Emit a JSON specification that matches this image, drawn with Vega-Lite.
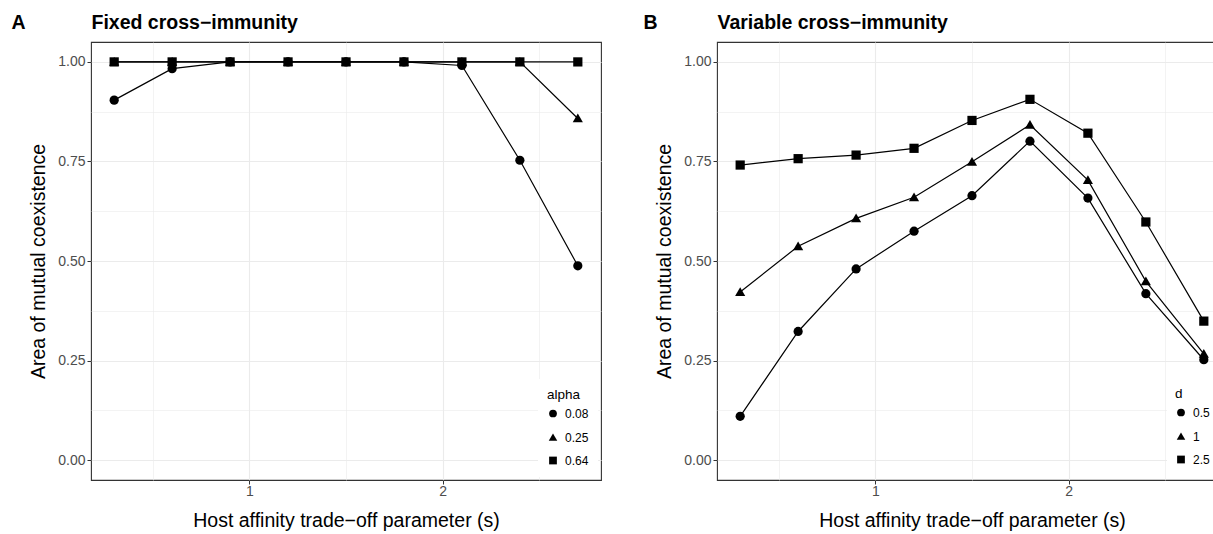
{
  "$schema": "https://vega.github.io/schema/vega-lite/v6.json",
  "background": "white",
  "padding": {"left": 10, "top": 11, "right": 0, "bottom": 0},
  "datasets": {
    "fixed": [
      {"s": 0.3, "area": 0.904, "alpha": "0.08"},
      {"s": 0.6, "area": 0.983, "alpha": "0.08"},
      {"s": 0.9, "area": 1.0, "alpha": "0.08"},
      {"s": 1.2, "area": 1.0, "alpha": "0.08"},
      {"s": 1.5, "area": 1.0, "alpha": "0.08"},
      {"s": 1.8, "area": 1.0, "alpha": "0.08"},
      {"s": 2.1, "area": 0.991, "alpha": "0.08"},
      {"s": 2.4, "area": 0.753, "alpha": "0.08"},
      {"s": 2.7, "area": 0.488, "alpha": "0.08"},
      {"s": 0.3, "area": 1.0, "alpha": "0.25"},
      {"s": 0.6, "area": 1.0, "alpha": "0.25"},
      {"s": 0.9, "area": 1.0, "alpha": "0.25"},
      {"s": 1.2, "area": 1.0, "alpha": "0.25"},
      {"s": 1.5, "area": 1.0, "alpha": "0.25"},
      {"s": 1.8, "area": 1.0, "alpha": "0.25"},
      {"s": 2.1, "area": 1.0, "alpha": "0.25"},
      {"s": 2.4, "area": 1.0, "alpha": "0.25"},
      {"s": 2.7, "area": 0.858, "alpha": "0.25"},
      {"s": 0.3, "area": 1.0, "alpha": "0.64"},
      {"s": 0.6, "area": 1.0, "alpha": "0.64"},
      {"s": 0.9, "area": 1.0, "alpha": "0.64"},
      {"s": 1.2, "area": 1.0, "alpha": "0.64"},
      {"s": 1.5, "area": 1.0, "alpha": "0.64"},
      {"s": 1.8, "area": 1.0, "alpha": "0.64"},
      {"s": 2.1, "area": 1.0, "alpha": "0.64"},
      {"s": 2.4, "area": 1.0, "alpha": "0.64"},
      {"s": 2.7, "area": 1.0, "alpha": "0.64"}
    ],
    "variable": [
      {"s": 0.3, "area": 0.110, "d": "0.5"},
      {"s": 0.6, "area": 0.323, "d": "0.5"},
      {"s": 0.9, "area": 0.480, "d": "0.5"},
      {"s": 1.2, "area": 0.575, "d": "0.5"},
      {"s": 1.5, "area": 0.664, "d": "0.5"},
      {"s": 1.8, "area": 0.801, "d": "0.5"},
      {"s": 2.1, "area": 0.658, "d": "0.5"},
      {"s": 2.4, "area": 0.418, "d": "0.5"},
      {"s": 2.7, "area": 0.252, "d": "0.5"},
      {"s": 0.3, "area": 0.422, "d": "1"},
      {"s": 0.6, "area": 0.537, "d": "1"},
      {"s": 0.9, "area": 0.607, "d": "1"},
      {"s": 1.2, "area": 0.660, "d": "1"},
      {"s": 1.5, "area": 0.749, "d": "1"},
      {"s": 1.8, "area": 0.842, "d": "1"},
      {"s": 2.1, "area": 0.703, "d": "1"},
      {"s": 2.4, "area": 0.449, "d": "1"},
      {"s": 2.7, "area": 0.267, "d": "1"},
      {"s": 0.3, "area": 0.741, "d": "2.5"},
      {"s": 0.6, "area": 0.757, "d": "2.5"},
      {"s": 0.9, "area": 0.766, "d": "2.5"},
      {"s": 1.2, "area": 0.783, "d": "2.5"},
      {"s": 1.5, "area": 0.853, "d": "2.5"},
      {"s": 1.8, "area": 0.906, "d": "2.5"},
      {"s": 2.1, "area": 0.821, "d": "2.5"},
      {"s": 2.4, "area": 0.598, "d": "2.5"},
      {"s": 2.7, "area": 0.349, "d": "2.5"}
    ]
  },
  "config": {
    "font": "Liberation Sans",
    "view": {"stroke": "#333333", "strokeWidth": 1.1},
    "axis": {
      "domain": false,
      "tickColor": "#333333",
      "tickSize": 4,
      "labelPadding": 2,
      "labelFontSize": 14,
      "labelColor": "#4D4D4D",
      "titleFontSize": 19.5,
      "titleFontWeight": "normal",
      "titleColor": "black",
      "gridColor": "#EBEBEB"
    },
    "legend": {
      "titleFontSize": 13.5,
      "titleFontWeight": "normal",
      "titleColor": "black",
      "labelFontSize": 12,
      "labelColor": "black",
      "symbolSize": 60,
      "symbolFillColor": "black",
      "symbolStrokeColor": "black",
      "rowPadding": 9,
      "titlePadding": 6,
      "labelOffset": 6,
      "fillColor": "white"
    },
    "concat": {"spacing": 40}
  },
  "resolve": {"scale": {"shape": "independent"}, "legend": {"shape": "independent"}},
  "hconcat": [
    {
      "width": 510,
      "height": 438,
      "data": {"name": "fixed"},
      "layer": [
        {
          "mark": {"type": "line", "color": "black", "strokeWidth": 1.2},
          "encoding": {
            "x": {
              "field": "s", "type": "quantitative",
              "scale": {"domain": [0.18, 2.82], "nice": false, "zero": false},
              "axis": {
                "title": "Host affinity trade−off parameter (s)",
                "values": [0.5, 1, 1.5, 2, 2.5],
                "labelExpr": "datum.value % 1 == 0 ? format(datum.value, 'd') : ''",
                "tickColor": {"condition": {"test": "datum.value % 1 == 0", "value": "#333333"}, "value": "transparent"},
                "gridWidth": {"condition": {"test": "datum.value % 1 == 0", "value": 1.1}, "value": 0.6},
                "labelPadding": 0,
                "titlePadding": 13
              }
            },
            "y": {
              "field": "area", "type": "quantitative",
              "scale": {"domain": [-0.05, 1.05], "nice": false, "zero": false},
              "axis": {
                "title": "Area of mutual coexistence",
                "values": [0, 0.125, 0.25, 0.375, 0.5, 0.625, 0.75, 0.875, 1],
                "labelExpr": "datum.value * 4 % 1 == 0 ? format(datum.value, '.2f') : ''",
                "tickColor": {"condition": {"test": "datum.value * 4 % 1 == 0", "value": "#333333"}, "value": "transparent"},
                "gridWidth": {"condition": {"test": "datum.value * 4 % 1 == 0", "value": 1.1}, "value": 0.6},
                "titlePadding": 9
              }
            },
            "detail": {"field": "alpha", "type": "nominal"}
          }
        },
        {
          "mark": {"type": "point", "filled": true, "color": "black", "size": 85, "opacity": 1},
          "encoding": {
            "x": {
              "field": "s", "type": "quantitative",
              "scale": {"domain": [0.18, 2.82], "nice": false, "zero": false},
              "axis": {
                "orient": "top",
                "title": "Fixed cross−immunity",
                "labels": false, "ticks": false, "domain": false, "grid": false,
                "titleAnchor": "start", "titleAlign": "left", "titleX": 0, "titleY": -14,
                "titleBaseline": "alphabetic", "titleFontWeight": "bold", "titleFontSize": 19.5
              }
            },
            "y": {
              "field": "area", "type": "quantitative",
              "scale": {"domain": [-0.05, 1.05], "nice": false, "zero": false},
              "axis": {
                "orient": "right",
                "title": "A",
                "labels": false, "ticks": false, "domain": false, "grid": false,
                "titleAngle": 0, "titleAlign": "left", "titleX": -590, "titleY": -14,
                "titleBaseline": "alphabetic", "titleFontWeight": "bold", "titleFontSize": 19.5
              }
            },
            "shape": {
              "field": "alpha", "type": "nominal",
              "scale": {"range": ["circle", "M0,-1.05L1.1,0.85L-1.1,0.85Z", "square"]},
              "legend": {"title": "alpha", "orient": "none", "legendX": 447, "legendY": 337, "padding": 9}
            }
          }
        }
      ],
      "resolve": {"axis": {"x": "independent", "y": "independent"}}
    },
    {
      "width": 510,
      "height": 438,
      "data": {"name": "variable"},
      "layer": [
        {
          "mark": {"type": "line", "color": "black", "strokeWidth": 1.2},
          "encoding": {
            "x": {
              "field": "s", "type": "quantitative",
              "scale": {"domain": [0.18, 2.82], "nice": false, "zero": false},
              "axis": {
                "title": "Host affinity trade−off parameter (s)",
                "values": [0.5, 1, 1.5, 2, 2.5],
                "labelExpr": "datum.value % 1 == 0 ? format(datum.value, 'd') : ''",
                "tickColor": {"condition": {"test": "datum.value % 1 == 0", "value": "#333333"}, "value": "transparent"},
                "gridWidth": {"condition": {"test": "datum.value % 1 == 0", "value": 1.1}, "value": 0.6},
                "labelPadding": 0,
                "titlePadding": 13
              }
            },
            "y": {
              "field": "area", "type": "quantitative",
              "scale": {"domain": [-0.05, 1.05], "nice": false, "zero": false},
              "axis": {
                "title": "Area of mutual coexistence",
                "values": [0, 0.125, 0.25, 0.375, 0.5, 0.625, 0.75, 0.875, 1],
                "labelExpr": "datum.value * 4 % 1 == 0 ? format(datum.value, '.2f') : ''",
                "tickColor": {"condition": {"test": "datum.value * 4 % 1 == 0", "value": "#333333"}, "value": "transparent"},
                "gridWidth": {"condition": {"test": "datum.value * 4 % 1 == 0", "value": 1.1}, "value": 0.6},
                "titlePadding": 9
              }
            },
            "detail": {"field": "d", "type": "nominal"}
          }
        },
        {
          "mark": {"type": "point", "filled": true, "color": "black", "size": 85, "opacity": 1},
          "encoding": {
            "x": {
              "field": "s", "type": "quantitative",
              "scale": {"domain": [0.18, 2.82], "nice": false, "zero": false},
              "axis": {
                "orient": "top",
                "title": "Variable cross−immunity",
                "labels": false, "ticks": false, "domain": false, "grid": false,
                "titleAnchor": "start", "titleAlign": "left", "titleX": 0, "titleY": -14,
                "titleBaseline": "alphabetic", "titleFontWeight": "bold", "titleFontSize": 19.5
              }
            },
            "y": {
              "field": "area", "type": "quantitative",
              "scale": {"domain": [-0.05, 1.05], "nice": false, "zero": false},
              "axis": {
                "orient": "right",
                "title": "B",
                "labels": false, "ticks": false, "domain": false, "grid": false,
                "titleAngle": 0, "titleAlign": "left", "titleX": -584, "titleY": -14,
                "titleBaseline": "alphabetic", "titleFontWeight": "bold", "titleFontSize": 19.5
              }
            },
            "shape": {
              "field": "d", "type": "nominal",
              "scale": {"range": ["circle", "M0,-1.05L1.1,0.85L-1.1,0.85Z", "square"]},
              "legend": {"title": "d", "orient": "none", "legendX": 450, "legendY": 337, "padding": 8}
            }
          }
        }
      ],
      "resolve": {"axis": {"x": "independent", "y": "independent"}}
    }
  ]
}
